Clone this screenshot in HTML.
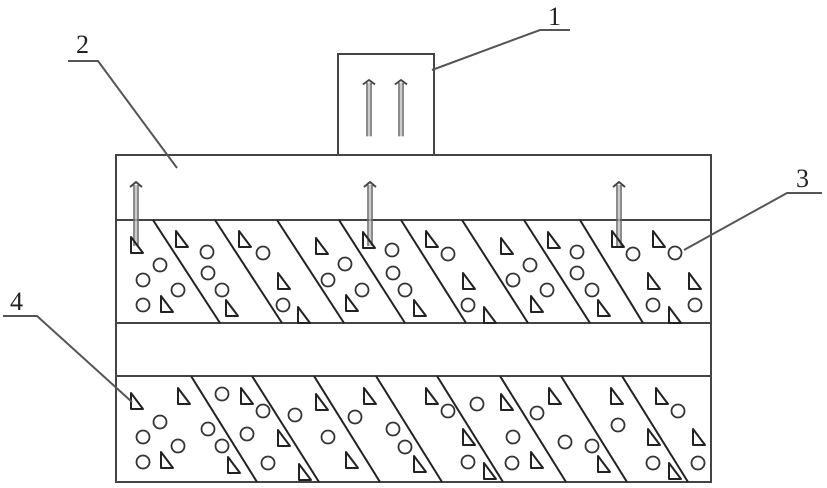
<!DOCTYPE html>
<html><head><meta charset="utf-8"><style>
html,body{margin:0;padding:0;background:#fff;}
svg{display:block;}
text{font-family:"Liberation Serif",serif;font-size:26px;fill:#222;}
</style></head><body>
<svg width="827" height="488" viewBox="0 0 827 488" xmlns="http://www.w3.org/2000/svg">
<defs>
<g id="tri"><path d="M0,0 L12,16 L0,16 Z" fill="none" stroke="#222" stroke-width="2" stroke-linejoin="round"/></g>
<g id="cir"><circle cx="0" cy="0" r="6.5" fill="none" stroke="#333" stroke-width="1.8"/></g>
<g id="arr">
<line x1="-2" y1="3" x2="-2" y2="64" stroke="#666" stroke-width="1.5"/>
<line x1="2" y1="3" x2="2" y2="64" stroke="#666" stroke-width="1.5"/>
<line x1="0" y1="3" x2="0" y2="64" stroke="#bbb" stroke-width="1.5"/>
<path d="M-6,5 L0,0 L6,5" fill="none" stroke="#444" stroke-width="2"/>
</g>
</defs>
<g stroke="#444" stroke-width="2" fill="none">
<rect x="116" y="155" width="595" height="327"/>
<rect x="338" y="54" width="96" height="101" fill="#fff"/>
<line x1="116" y1="220" x2="711" y2="220"/>
<line x1="116" y1="323" x2="711" y2="323"/>
<line x1="116" y1="376" x2="711" y2="376"/>
</g>
<g stroke="#222" stroke-width="2">
<line x1="153" y1="220" x2="220" y2="323"/><line x1="215" y1="220" x2="282" y2="323"/>
<line x1="277" y1="220" x2="344" y2="323"/><line x1="339" y1="220" x2="405" y2="323"/>
<line x1="401" y1="220" x2="466" y2="323"/><line x1="462" y1="220" x2="528" y2="323"/>
<line x1="524" y1="220" x2="590" y2="323"/><line x1="580" y1="220" x2="643" y2="323"/>
<line x1="191" y1="376" x2="257" y2="482"/><line x1="252" y1="376" x2="319" y2="482"/>
<line x1="314" y1="376" x2="380" y2="482"/><line x1="376" y1="376" x2="442" y2="482"/>
<line x1="437" y1="376" x2="503" y2="482"/><line x1="500" y1="376" x2="566" y2="482"/>
<line x1="561" y1="376" x2="627" y2="482"/><line x1="622" y1="376" x2="688" y2="482"/>
</g>
<!-- arrows -->
<use href="#arr" x="136" y="182"/><use href="#arr" x="370" y="182"/><use href="#arr" x="619" y="182"/>
<use href="#arr" transform="translate(369,80) scale(1,0.88)"/><use href="#arr" transform="translate(401,80) scale(1,0.88)"/>
<!-- upper triangles -->
<g>
<use href="#tri" x="131" y="237"/><use href="#tri" x="176" y="231"/><use href="#tri" x="239" y="231"/>
<use href="#tri" x="278" y="273"/><use href="#tri" x="298" y="307"/><use href="#tri" x="226" y="300"/>
<use href="#tri" x="161" y="296"/><use href="#tri" x="316" y="238"/><use href="#tri" x="346" y="295"/>
<use href="#tri" x="363" y="232"/><use href="#tri" x="426" y="231"/><use href="#tri" x="463" y="273"/>
<use href="#tri" x="414" y="300"/><use href="#tri" x="484" y="307"/><use href="#tri" x="501" y="238"/>
<use href="#tri" x="548" y="232"/><use href="#tri" x="531" y="296"/><use href="#tri" x="598" y="300"/>
<use href="#tri" x="612" y="231"/><use href="#tri" x="653" y="231"/><use href="#tri" x="648" y="273"/>
<use href="#tri" x="669" y="307"/><use href="#tri" x="689" y="273"/>
<!-- lower triangles -->
<use href="#tri" x="131" y="393"/><use href="#tri" x="178" y="388"/><use href="#tri" x="161" y="452"/>
<use href="#tri" x="241" y="388"/><use href="#tri" x="228" y="457"/><use href="#tri" x="278" y="430"/>
<use href="#tri" x="299" y="464"/><use href="#tri" x="316" y="394"/><use href="#tri" x="346" y="452"/>
<use href="#tri" x="364" y="388"/><use href="#tri" x="426" y="388"/><use href="#tri" x="463" y="429"/>
<use href="#tri" x="414" y="456"/><use href="#tri" x="484" y="463"/><use href="#tri" x="501" y="394"/>
<use href="#tri" x="549" y="388"/><use href="#tri" x="531" y="452"/><use href="#tri" x="598" y="456"/>
<use href="#tri" x="611" y="388"/><use href="#tri" x="656" y="388"/><use href="#tri" x="648" y="429"/>
<use href="#tri" x="669" y="463"/><use href="#tri" x="693" y="429"/>
</g>
<!-- circles -->
<g>
<use href="#cir" x="160" y="265"/><use href="#cir" x="143" y="280"/><use href="#cir" x="178" y="290"/>
<use href="#cir" x="143" y="305"/><use href="#cir" x="207" y="252"/><use href="#cir" x="208" y="273"/>
<use href="#cir" x="222" y="290"/><use href="#cir" x="263" y="253"/><use href="#cir" x="283" y="305"/>
<use href="#cir" x="345" y="264"/><use href="#cir" x="328" y="280"/><use href="#cir" x="362" y="290"/>
<use href="#cir" x="392" y="250"/><use href="#cir" x="393" y="273"/><use href="#cir" x="405" y="290"/>
<use href="#cir" x="448" y="254"/><use href="#cir" x="468" y="305"/><use href="#cir" x="530" y="265"/>
<use href="#cir" x="513" y="280"/><use href="#cir" x="547" y="290"/><use href="#cir" x="577" y="252"/>
<use href="#cir" x="577" y="273"/><use href="#cir" x="592" y="290"/><use href="#cir" x="633" y="254"/>
<use href="#cir" x="675" y="253"/><use href="#cir" x="653" y="305"/><use href="#cir" x="695" y="305"/>
<use href="#cir" x="160" y="422"/><use href="#cir" x="143" y="437"/><use href="#cir" x="178" y="446"/>
<use href="#cir" x="143" y="462"/><use href="#cir" x="222" y="394"/><use href="#cir" x="263" y="411"/>
<use href="#cir" x="208" y="429"/><use href="#cir" x="222" y="446"/><use href="#cir" x="247" y="434"/>
<use href="#cir" x="295" y="415"/><use href="#cir" x="268" y="463"/><use href="#cir" x="328" y="437"/>
<use href="#cir" x="355" y="417"/><use href="#cir" x="393" y="429"/><use href="#cir" x="405" y="447"/>
<use href="#cir" x="448" y="411"/><use href="#cir" x="477" y="404"/><use href="#cir" x="468" y="462"/>
<use href="#cir" x="537" y="413"/><use href="#cir" x="513" y="437"/><use href="#cir" x="512" y="463"/>
<use href="#cir" x="565" y="442"/><use href="#cir" x="592" y="446"/><use href="#cir" x="618" y="425"/>
<use href="#cir" x="678" y="411"/><use href="#cir" x="653" y="463"/><use href="#cir" x="698" y="463"/>
</g>
<!-- leaders -->
<g fill="none" stroke="#555" stroke-width="2">
<polyline points="432,70 540,30 570,30"/>
<polyline points="68,61 98,61 177,168"/>
<polyline points="822,193 787,193 684,250"/>
<polyline points="3,316 37,316 132,402"/>
</g>
<text x="548" y="25">1</text>
<text x="76" y="53">2</text>
<text x="796" y="187">3</text>
<text x="10" y="310">4</text>
</svg>
</body></html>
